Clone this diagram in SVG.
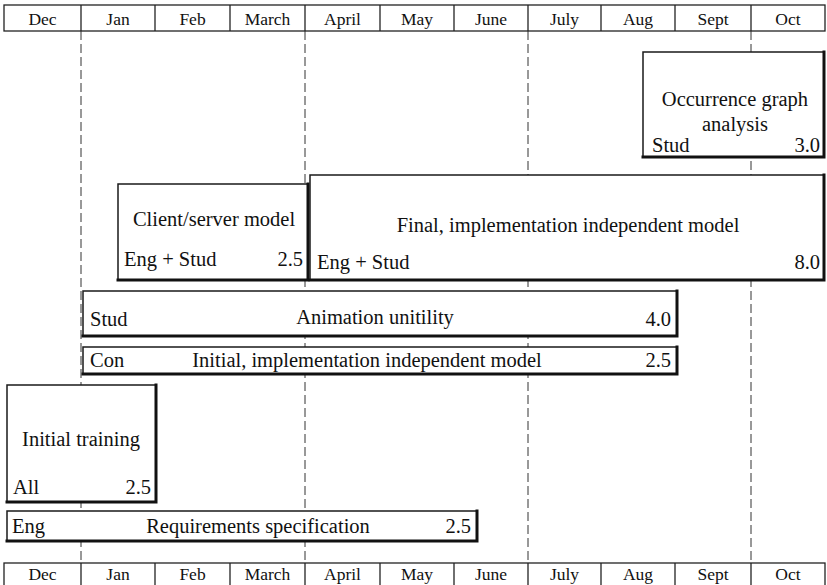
<svg xmlns="http://www.w3.org/2000/svg" width="827" height="585" viewBox="0 0 827 585">
  <style>
    .bg { fill: #ffffff; }
    .cell { fill: none; stroke: #222; stroke-width: 1.3; }
    .div { stroke: #222; stroke-width: 1.3; }
    .grid { stroke: #333; stroke-width: 1; stroke-dasharray: 9 4; fill: none; }
    .box { fill: #ffffff; stroke: #1a1a1a; stroke-width: 1.5; }
    .shadow { fill: none; stroke: #111; stroke-width: 3; stroke-linecap: square; }
    text { font-family: 'Liberation Serif', 'DejaVu Serif', serif; fill: #111; }
    .month { font-size: 17.5px; text-anchor: middle; }
    .lbl { font-size: 20.5px; }
    .mid { text-anchor: middle; }
    .end { text-anchor: end; }
  </style>

  <rect class="bg" x="0" y="0" width="827" height="585"/>

  <!-- month grid lines between the two calendar rows -->
  <g id="connectors">
    <line class="grid" x1="81" y1="31" x2="81" y2="563"/>
    <line class="grid" x1="305" y1="31" x2="305" y2="563"/>
    <line class="grid" x1="528" y1="31" x2="528" y2="563"/>
    <line class="grid" x1="751" y1="31" x2="751" y2="563"/>
  </g>

  <!-- top calendar row -->
  <g id="months-top">
    <rect class="cell" x="4" y="5" width="821" height="26"/>
    <line class="div" x1="81" y1="5" x2="81" y2="31"/>
    <line class="div" x1="155" y1="5" x2="155" y2="31"/>
    <line class="div" x1="230" y1="5" x2="230" y2="31"/>
    <line class="div" x1="305" y1="5" x2="305" y2="31"/>
    <line class="div" x1="380" y1="5" x2="380" y2="31"/>
    <line class="div" x1="454" y1="5" x2="454" y2="31"/>
    <line class="div" x1="528" y1="5" x2="528" y2="31"/>
    <line class="div" x1="601" y1="5" x2="601" y2="31"/>
    <line class="div" x1="675" y1="5" x2="675" y2="31"/>
    <line class="div" x1="751" y1="5" x2="751" y2="31"/>
    <text class="month" x="42.5" y="25">Dec</text>
    <text class="month" x="118" y="25">Jan</text>
    <text class="month" x="192.5" y="25">Feb</text>
    <text class="month" x="267.5" y="25">March</text>
    <text class="month" x="342.5" y="25">April</text>
    <text class="month" x="417" y="25">May</text>
    <text class="month" x="491" y="25">June</text>
    <text class="month" x="564.5" y="25">July</text>
    <text class="month" x="638" y="25">Aug</text>
    <text class="month" x="713" y="25">Sept</text>
    <text class="month" x="788" y="25">Oct</text>
  </g>

  <!-- bottom calendar row -->
  <g id="months-bottom">
    <rect class="cell" x="4" y="563" width="821" height="30"/>
    <line class="div" x1="81" y1="563" x2="81" y2="585"/>
    <line class="div" x1="155" y1="563" x2="155" y2="585"/>
    <line class="div" x1="230" y1="563" x2="230" y2="585"/>
    <line class="div" x1="305" y1="563" x2="305" y2="585"/>
    <line class="div" x1="380" y1="563" x2="380" y2="585"/>
    <line class="div" x1="454" y1="563" x2="454" y2="585"/>
    <line class="div" x1="528" y1="563" x2="528" y2="585"/>
    <line class="div" x1="601" y1="563" x2="601" y2="585"/>
    <line class="div" x1="675" y1="563" x2="675" y2="585"/>
    <line class="div" x1="751" y1="563" x2="751" y2="585"/>
    <text class="month" x="42.5" y="580">Dec</text>
    <text class="month" x="118" y="580">Jan</text>
    <text class="month" x="192.5" y="580">Feb</text>
    <text class="month" x="267.5" y="580">March</text>
    <text class="month" x="342.5" y="580">April</text>
    <text class="month" x="417" y="580">May</text>
    <text class="month" x="491" y="580">June</text>
    <text class="month" x="564.5" y="580">July</text>
    <text class="month" x="638" y="580">Aug</text>
    <text class="month" x="713" y="580">Sept</text>
    <text class="month" x="788" y="580">Oct</text>
  </g>

  <!-- activity bars: thin top/left edge, heavy right/bottom edge -->
  <g id="occurrence-graph">
    <rect class="box" x="643" y="52" width="181" height="105"/>
    <polyline class="shadow" points="824,52 824,157 643,157"/>
    <text class="lbl mid" x="735" y="106">Occurrence graph</text>
    <text class="lbl mid" x="735" y="131">analysis</text>
    <text class="lbl" x="652" y="152">Stud</text>
    <text class="lbl end" x="820" y="152">3.0</text>
  </g>

  <g id="client-server">
    <rect class="box" x="118" y="184" width="190" height="96"/>
    <polyline class="shadow" points="308,184 308,280 118,280"/>
    <text class="lbl mid" x="214" y="226">Client/server model</text>
    <text class="lbl" x="124" y="266">Eng + Stud</text>
    <text class="lbl end" x="303" y="266">2.5</text>
  </g>

  <g id="final-model">
    <rect class="box" x="310" y="175" width="514" height="105"/>
    <polyline class="shadow" points="824,175 824,280 310,280"/>
    <text class="lbl mid" x="568" y="232">Final, implementation independent model</text>
    <text class="lbl" x="317" y="269">Eng + Stud</text>
    <text class="lbl end" x="820" y="269">8.0</text>
  </g>

  <g id="animation">
    <rect class="box" x="83" y="291" width="594" height="45"/>
    <polyline class="shadow" points="677,291 677,336 83,336"/>
    <text class="lbl" x="90" y="326">Stud</text>
    <text class="lbl mid" x="375" y="324">Animation unitility</text>
    <text class="lbl end" x="671" y="326">4.0</text>
  </g>

  <g id="initial-model">
    <rect class="box" x="83" y="347" width="594" height="27"/>
    <polyline class="shadow" points="677,347 677,374 83,374"/>
    <text class="lbl" x="90" y="367">Con</text>
    <text class="lbl mid" x="367" y="367">Initial, implementation independent model</text>
    <text class="lbl end" x="671" y="367">2.5</text>
  </g>

  <g id="initial-training">
    <rect class="box" x="7" y="385" width="149" height="117"/>
    <polyline class="shadow" points="156,385 156,502 7,502"/>
    <text class="lbl mid" x="81" y="446">Initial training</text>
    <text class="lbl" x="13" y="494">All</text>
    <text class="lbl end" x="151" y="494">2.5</text>
  </g>

  <g id="requirements">
    <rect class="box" x="7" y="511" width="470" height="30"/>
    <polyline class="shadow" points="477,511 477,541 7,541"/>
    <text class="lbl" x="12" y="533">Eng</text>
    <text class="lbl mid" x="258" y="533">Requirements specification</text>
    <text class="lbl end" x="471" y="533">2.5</text>
  </g>
</svg>
